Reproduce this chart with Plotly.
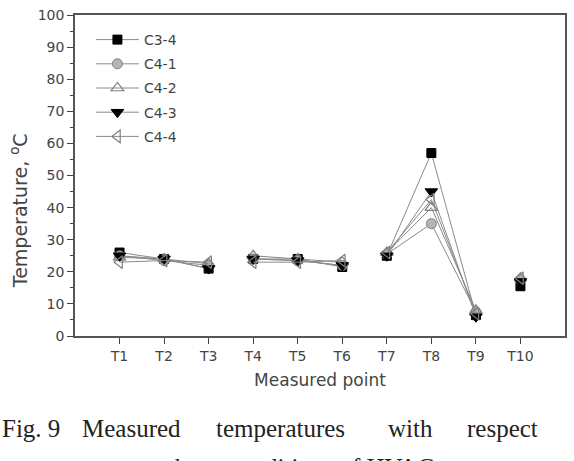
import plotly.graph_objects as go

categories = ["T1", "T2", "T3", "T4", "T5", "T6", "T7", "T8", "T9", "T10"]
groups = [[0, 1, 2], [3, 4, 5], [6, 7, 8], [9]]

c3_4 = [26, 24, 21, 24, 24, 21.5, 25, 57, 6.5, 15.5]
c4_1 = [25, 23.5, 22, 24, 23.5, 22, 25.5, 35, 7.5, 17.5]
c4_2 = [24.5, 24, 22.5, 25, 24, 23, 26, 40, 8, 18]
c4_3 = [25, 24, 21, 24, 23.5, 22, 25, 45, 6, 17]
c4_4 = [23, 23.5, 23, 23, 23, 23.5, 26, 42.5, 7, 18]

series = [
    ("C3-4", c3_4, dict(symbol="square", color="black", size=9, line=dict(color="black", width=1))),
    ("C4-1", c4_1, dict(symbol="circle", color="#b5b5b5", size=10, line=dict(color="#808080", width=1))),
    ("C4-2", c4_2, dict(symbol="triangle-up-open", color="#808080", size=11, line=dict(color="#808080", width=1.2))),
    ("C4-3", c4_3, dict(symbol="triangle-down", color="black", size=11, line=dict(color="black", width=1))),
    ("C4-4", c4_4, dict(symbol="triangle-left-open", color="#808080", size=11, line=dict(color="#808080", width=1.2))),
]

W, H = 574, 461
L, R, T, B = 75, 7, 15, 125
pw, ph = W - L - R, H - T - B

def px(x):
    return (x - L) / pw

def py(y):
    return (H - B - y) / ph

fig = go.Figure()
for name, vals, mk in series:
    xs, ys = [], []
    for g in groups:
        for i in g:
            xs.append(i + 1)
            ys.append(vals[i])
        xs.append(None)
        ys.append(None)
    fig.add_trace(go.Scatter(
        x=xs, y=ys, name=name, mode="lines+markers",
        line=dict(color="#8a8a8a", width=1),
        marker=mk, legendgroup=name, connectgaps=False,
    ))

font = "DejaVu Sans, sans-serif"
fig.update_layout(
    width=W, height=H,
    margin=dict(l=L, r=R, t=T, b=B),
    paper_bgcolor="white", plot_bgcolor="white",
    font=dict(family=font, size=14, color="#444"),
    showlegend=True,
    legend=dict(x=px(91), y=py(24), xanchor="left", yanchor="top",
                bgcolor="rgba(0,0,0,0)", tracegroupgap=3, itemwidth=43,
                font=dict(size=14, color="#444")),
    xaxis=dict(
        range=[0, 11], tickmode="array", tickvals=list(range(1, 11)), ticktext=categories,
        ticks="outside", ticklen=6, tickcolor="#444", showline=True, linecolor="#555",
        linewidth=1.5, mirror=True, showgrid=False, zeroline=False,
        title=dict(text="Measured point", standoff=12, font=dict(size=17)),
        tickfont=dict(size=14),
    ),
    yaxis=dict(
        range=[0, 100], tickmode="linear", dtick=10, ticks="outside", ticklen=6,
        tickcolor="#444", showline=True, linecolor="#555", linewidth=1.5, mirror=True,
        showgrid=False, zeroline=False,
        minor=dict(ticks="outside", ticklen=3, dtick=5, tickcolor="#444"),
        tickfont=dict(size=14),
    ),
)

fig.add_annotation(text="Temperature, <sup>o</sup>C", x=px(19), y=py(211), xref="paper", yref="paper",
                   xanchor="center", yanchor="middle", textangle=-90, showarrow=False,
                   font=dict(family=font, size=19, color="#444"))

cap_font = dict(family="Liberation Serif, Times New Roman, serif", size=25, color="#222")
words = [("Fig. 9", 0), ("Measured", 80), ("temperatures", 215), ("with", 387), ("respect", 467)]
for w, x0 in words:
    fig.add_annotation(text=w, x=px(x0), y=py(428), xref="paper", yref="paper",
                       xanchor="left", yanchor="middle", showarrow=False, font=cap_font)

line2 = [("to the", 140), ("conditions of HVAC system", 228)]
for w, x0 in line2:
    fig.add_annotation(text=w, x=px(x0), y=py(467), xref="paper", yref="paper",
                       xanchor="left", yanchor="middle", showarrow=False, font=cap_font)

fig.write_html("out.html")
